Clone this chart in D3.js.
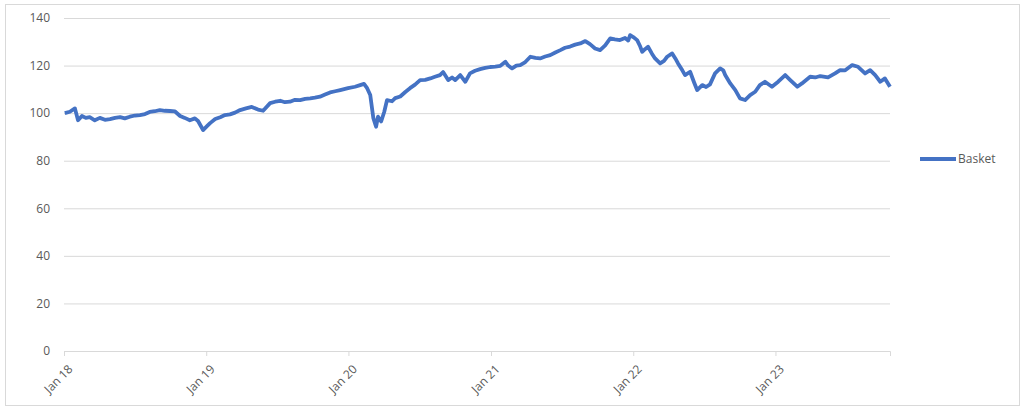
<!DOCTYPE html>
<html>
<head>
<meta charset="utf-8">
<script src="https://cdn.jsdelivr.net/npm/d3@7"></script>
<style>
  body { margin: 0; background: #fff; }
  text { font-family: "Open Sans", sans-serif; }
</style>
</head>
<body>
<div class="chart"></div>
<script>
const dates = [
  "2018-01-03","2018-01-16","2018-01-29","2018-02-06","2018-02-16","2018-02-26","2018-03-08","2018-03-21",
  "2018-04-03","2018-04-16","2018-04-29","2018-05-12","2018-05-25","2018-06-06","2018-06-19","2018-07-02",
  "2018-07-15","2018-07-28","2018-08-09","2018-08-22","2018-09-04","2018-09-17","2018-09-30","2018-10-13",
  "2018-10-26","2018-11-07","2018-11-20","2018-12-03","2018-12-11","2018-12-24","2019-01-03","2019-01-11",
  "2019-01-24","2019-02-06","2019-02-18","2019-03-03","2019-03-16","2019-03-29","2019-04-13","2019-04-28",
  "2019-05-14","2019-05-27","2019-06-14","2019-06-27","2019-07-10","2019-07-22","2019-08-04","2019-08-17",
  "2019-08-30","2019-09-12","2019-09-25","2019-10-07","2019-10-20","2019-11-02","2019-11-15","2019-11-28",
  "2019-12-11","2019-12-31","2020-01-18","2020-01-31","2020-02-10","2020-02-18","2020-02-26","2020-03-05",
  "2020-03-12","2020-03-17","2020-03-25","2020-04-02","2020-04-09","2020-04-22","2020-04-30","2020-05-13",
  "2020-05-26","2020-06-07","2020-06-20","2020-07-03","2020-07-16","2020-07-29","2020-08-10","2020-08-23",
  "2020-08-31","2020-09-13","2020-09-23","2020-10-01","2020-10-14","2020-10-27","2020-11-08","2020-11-21",
  "2020-12-04","2020-12-17","2020-12-30","2021-01-12","2021-01-25","2021-02-07","2021-02-14","2021-02-24",
  "2021-03-07","2021-03-17","2021-03-30","2021-04-12","2021-04-25","2021-05-07","2021-05-20","2021-06-02",
  "2021-06-15","2021-06-28","2021-07-10","2021-07-23","2021-08-05","2021-08-18","2021-08-31","2021-09-12",
  "2021-09-25","2021-10-08","2021-10-21","2021-11-03","2021-11-15","2021-11-28","2021-12-11","2021-12-19",
  "2021-12-24","2022-01-01","2022-01-11","2022-01-19","2022-01-24","2022-02-01","2022-02-08","2022-02-18",
  "2022-02-26","2022-03-11","2022-03-21","2022-03-29","2022-04-11","2022-04-19","2022-04-26","2022-05-07",
  "2022-05-14","2022-05-27","2022-06-06","2022-06-14","2022-06-27","2022-07-07","2022-07-17","2022-07-30",
  "2022-08-12","2022-08-20","2022-08-25","2022-09-07","2022-09-20","2022-10-02","2022-10-15","2022-10-28",
  "2022-11-10","2022-11-22","2022-12-05","2022-12-23","2023-01-08","2023-01-26","2023-02-08","2023-02-26",
  "2023-03-10","2023-03-31","2023-04-13","2023-04-26","2023-05-16","2023-06-03","2023-06-16","2023-06-29",
  "2023-07-17","2023-08-01","2023-08-19","2023-09-01","2023-09-14","2023-09-27","2023-10-09","2023-10-22"
];

const basket = [
  100.0,100.6,102.0,97.0,98.8,98.0,98.3,97.0,
  98.0,97.2,97.5,98.0,98.3,97.8,98.5,99.0,
  99.2,99.6,100.5,100.8,101.3,101.0,100.9,100.7,
  98.8,98.0,97.0,97.8,96.7,92.9,94.5,95.8,
  97.5,98.3,99.2,99.5,100.2,101.3,102.0,102.6,
  101.5,101.0,104.2,104.8,105.2,104.6,104.8,105.6,
  105.5,106.0,106.2,106.5,106.9,107.8,108.7,109.2,
  109.7,110.5,111.1,111.8,112.3,110.5,107.6,97.9,
  94.3,98.5,96.5,100.6,105.5,105.0,106.3,107.0,
  108.9,110.5,112.0,113.9,114.0,114.6,115.3,116.0,
  117.3,113.9,115.0,113.9,116.0,113.2,116.7,117.8,
  118.5,119.0,119.4,119.6,119.9,121.6,120.0,118.8,
  120.0,120.2,121.5,123.7,123.2,123.0,123.8,124.4,
  125.5,126.5,127.5,128.0,128.8,129.3,130.3,129.0,
  127.2,126.5,128.5,131.4,131.0,130.7,131.6,130.5,
  132.8,132.0,130.7,128.0,125.8,127.0,127.9,125.0,
  123.0,120.9,122.0,123.7,125.1,123.0,120.9,118.0,
  116.0,117.4,113.0,109.7,111.8,111.0,112.1,116.7,
  118.8,118.0,116.0,112.5,109.7,106.2,105.5,107.6,
  109.0,111.8,113.2,111.1,113.2,116.0,113.9,111.1,
  112.5,115.3,115.0,115.6,115.0,116.7,118.1,118.0,
  120.2,119.5,116.7,118.1,116.0,113.2,114.6,111.1
];

const yTicks = [0, 20, 40, 60, 80, 100, 120, 140];
const seriesName = "Basket";

const width = 1025, height = 408;
const parse = d3.timeParse("%Y-%m-%d");
const data = dates.map((d, i) => ({ date: parse(d), value: basket[i] }));

const svg = d3.select(".chart")
  .append("svg")
  .attr("width", width)
  .attr("height", height);

// chart border
svg.append("rect")
  .attr("x", 5.5).attr("y", 4.5)
  .attr("width", 1014).attr("height", 401)
  .attr("fill", "none")
  .attr("stroke", "#d9d9d9");

const xScale = d3.scaleTime()
  .domain([parse("2018-01-01"), parse("2023-10-22")])
  .range([64, 890]);

const yScale = d3.scaleLinear()
  .domain([0, 140])
  .range([351, 18]);

// gridlines + y labels
const yAxis = svg.append("g")
  .attr("transform", "translate(64,0)")
  .call(d3.axisLeft(yScale).tickValues(yTicks).tickSize(-826).tickPadding(14));
yAxis.select(".domain").remove();
yAxis.selectAll("line").attr("stroke", "#d9d9d9");
yAxis.selectAll("text")
  .attr("fill", "#595959")
  .style("font-size", "12px");

// x axis
const xAxis = svg.append("g")
  .attr("transform", "translate(0,351)")
  .call(d3.axisBottom(xScale)
    .ticks(d3.timeYear.every(1))
    .tickFormat(d3.timeFormat("Jan %y"))
    .tickSize(5));
xAxis.select(".domain").attr("stroke", "#d9d9d9");
xAxis.selectAll("line").attr("stroke", "#d9d9d9");
xAxis.selectAll("text")
  .attr("fill", "#595959")
  .style("font-size", "12px")
  .attr("text-anchor", "end")
  .attr("y", 0)
  .attr("dy", "0.35em")
  .attr("transform", "translate(6,16) rotate(-45)");

const line = d3.line()
  .x(d => xScale(d.date))
  .y(d => yScale(d.value));

svg.append("path")
  .datum(data)
  .attr("d", line)
  .attr("fill", "none")
  .attr("stroke", "#4472c4")
  .attr("stroke-width", 3.8)
  .attr("stroke-linejoin", "round");

// legend
const legend = svg.append("g").attr("transform", "translate(920,159)");
legend.append("line")
  .attr("x1", 0).attr("x2", 36)
  .attr("stroke", "#4472c4")
  .attr("stroke-width", 3.8);
legend.append("text")
  .attr("x", 38).attr("dy", "0.35em")
  .attr("fill", "#595959")
  .style("font-size", "12px")
  .text(seriesName);
</script>
</body>
</html>
